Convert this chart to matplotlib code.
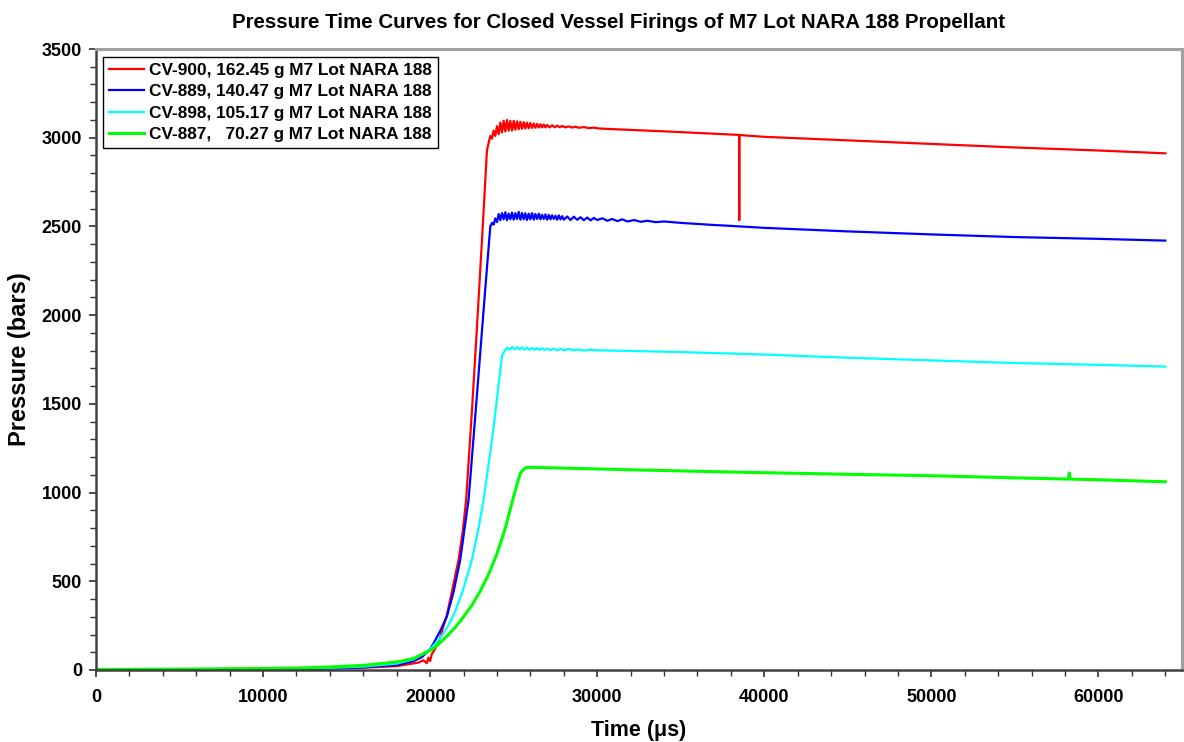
import matplotlib
matplotlib.use("Agg")
import matplotlib.pyplot as plt
from matplotlib.ticker import MultipleLocator

plt.rcParams['font.family'] = ['Liberation Sans', 'DejaVu Sans']
plt.rcParams['font.weight'] = 'bold'

# ---------------- data ----------------
labels = [
    "CV-900, 162.45 g M7 Lot NARA 188",
    "CV-889, 140.47 g M7 Lot NARA 188",
    "CV-898, 105.17 g M7 Lot NARA 188",
    "CV-887,   70.27 g M7 Lot NARA 188",
]
colors = ["#ff0000", "#0000ff", "#00ffff", "#00ff00"]

red_time = [0, 5000, 10000, 14000, 16000, 18000, 18800, 19300, 19600, 19800, 19900,
            20000, 20100, 20300, 20600, 21000, 21300, 21700, 21950, 22155, 22500,
            22800, 23100, 23400,
            23500, 23600, 23700, 23800, 23900, 24000, 24100, 24200, 24300, 24400,
            24500, 24600, 24700, 24800, 24900, 25000, 25100, 25200, 25300, 25400,
            25500, 25600, 25700, 25800, 25900, 26000, 26100, 26200, 26300, 26400,
            26500, 26600, 26700, 26800, 26900, 27000, 27150, 27300, 27450, 27600,
            27750, 27900, 28100, 28300, 28500, 28700, 28900, 29200, 29500, 29800,
            30100,
            31000, 32000, 34000, 36000, 38000, 38490, 38500, 38510,
            40000, 45000, 50000, 55000, 60000, 64000]
red_pressure = [0, 2, 4, 8, 13, 22, 34, 42, 55, 38, 70,
                50, 90, 120, 185, 310, 440, 621, 780, 960, 1460,
                1930, 2420, 2930,
                2970, 3010, 2995, 3040, 3010, 3065, 3020, 3085, 3030, 3095,
                3035, 3100, 3040, 3095, 3040, 3095, 3045, 3092, 3048, 3090,
                3050, 3088, 3052, 3085, 3053, 3083, 3055, 3080, 3056, 3078,
                3057, 3076, 3058, 3074, 3058, 3072, 3058, 3070, 3059, 3068,
                3059, 3066, 3058, 3064, 3057, 3062, 3056, 3060, 3054, 3057,
                3052,
                3048, 3044, 3036, 3027, 3018, 3016, 2535, 3015,
                3005, 2985, 2965, 2945, 2928, 2912]

blue_time = [0, 5000, 10000, 14000, 16000, 18000, 19000, 19500, 20000, 20200,
             20600, 21000, 21400, 21800, 22300, 22800, 23250, 23600,
             23700, 23800, 23900, 24000, 24100, 24200, 24300, 24400, 24500,
             24600, 24700, 24800, 24900, 25000, 25100, 25200, 25300, 25400,
             25500, 25600, 25700, 25800, 25900, 26000, 26100, 26200, 26300,
             26400, 26500, 26600, 26700, 26800, 26900, 27000, 27100, 27200,
             27300, 27400, 27500, 27600, 27700, 27800, 27900, 28000,
             28200, 28400, 28600, 28800, 29000, 29200, 29400, 29600, 29800,
             30000, 30300, 30600, 30900, 31200, 31500, 31800, 32200, 32600,
             33000, 33500, 34000, 35000, 36000, 37000, 38000,
             40000, 45000, 50000, 55000, 60000, 64000]
blue_pressure = [0, 1, 4, 9, 15, 28, 50, 72, 118, 150,
                 220, 301, 440, 621, 960, 1550, 2090, 2500,
                 2520, 2510, 2545, 2525, 2570, 2535, 2575, 2540, 2580,
                 2535, 2572, 2540, 2578, 2538, 2575, 2542, 2582, 2538,
                 2576, 2540, 2574, 2536, 2572, 2540, 2575, 2538, 2570,
                 2542, 2572, 2540, 2566, 2542, 2568, 2538, 2565, 2540,
                 2563, 2542, 2560, 2538, 2562, 2540, 2558, 2538,
                 2556, 2536, 2555, 2537, 2552, 2535, 2550, 2534, 2548,
                 2536, 2546, 2532, 2542, 2530, 2540, 2528, 2536, 2526,
                 2532, 2524, 2528, 2520, 2514, 2508, 2503,
                 2492, 2472, 2455, 2440, 2430, 2420]

cyan_time = [0, 5000, 10000, 14000, 16000, 18000, 19000, 20000, 20500, 21000,
             21500, 22000, 22500, 22900, 23200, 23600, 23800, 24000, 24300, 24500, 24600,
             24750, 24900, 25050, 25200, 25350, 25500, 25650, 25800, 25950, 26100,
             26250, 26400, 26550, 26700, 26850, 27000, 27200, 27400, 27600, 27800,
             28000, 28300, 28600, 28900, 29200, 29600, 30000,
             35000, 40000, 45000, 50000, 55000, 60000, 64000]
cyan_pressure = [0, 2, 6, 12, 19, 36, 60, 117, 170, 235,
                 330, 460, 621, 800, 960, 1230, 1370, 1530, 1769, 1805, 1816,
                 1806, 1820, 1808, 1819, 1807, 1818, 1806, 1816, 1805, 1815,
                 1805, 1814, 1804, 1813, 1804, 1812, 1803, 1811, 1802, 1810,
                 1802, 1809, 1801, 1807, 1800, 1805, 1802,
                 1792, 1778, 1760, 1745, 1730, 1720, 1710]

green_time = [0, 5000, 10000, 12000, 14000, 16000, 18000, 19000, 20000, 20500,
              21000, 21500, 22000, 22500, 23000, 23500, 24000, 24500, 25000,
              25400, 25700, 26000, 27000, 30000, 35000, 40000, 45000, 50000,
              55000, 58200, 58250, 58300, 60000, 64000]
green_pressure = [3, 5, 9, 11, 17, 26, 45, 65, 110, 145,
                  190, 240, 300, 365, 445, 540, 655, 800, 980,
                  1110, 1140, 1142, 1140, 1133, 1122, 1112, 1103, 1095,
                  1083, 1076, 1110, 1076, 1072, 1061]

series = [
    (red_time, red_pressure),
    (blue_time, blue_pressure),
    (cyan_time, cyan_pressure),
    (green_time, green_pressure),
]
linewidths = [1.6, 1.6, 1.6, 2.2]

x_ticks = [0, 10000, 20000, 30000, 40000, 50000, 60000]
y_ticks = [0, 500, 1000, 1500, 2000, 2500, 3000, 3500]

# ---------------- figure ----------------
fig = plt.figure(figsize=(11.84, 7.42), dpi=100)
ax = fig.add_axes([96 / 1184, 1 - 670 / 742, (1182 - 96) / 1184, (670 - 49) / 742])

for (t, p), c, lab, lw in zip(series, colors, labels, linewidths):
    ax.plot(t, p, color=c, lw=lw, label=lab)

ax.set_xlim(0, 65000)
ax.set_ylim(0, 3500)
ax.set_xticks(x_ticks)
ax.set_yticks(y_ticks)
ax.xaxis.set_minor_locator(MultipleLocator(2000))
ax.yaxis.set_minor_locator(MultipleLocator(100))

ax.tick_params(axis='both', which='major', direction='out', length=5, width=1.2,
               colors='#303030', labelcolor='black', labelsize=13)
ax.tick_params(axis='both', which='minor', direction='out', length=4, width=1.0,
               colors='#303030')
ax.tick_params(axis='x', which='major', pad=9)
ax.tick_params(axis='y', which='major', pad=5)
for lab in ax.get_xticklabels() + ax.get_yticklabels():
    lab.set_fontweight('bold')

for side in ['left', 'bottom']:
    ax.spines[side].set_color('#404040')
    ax.spines[side].set_linewidth(1.8)
for side in ['top', 'right']:
    ax.spines[side].set_color('#a0a0a0')
    ax.spines[side].set_linewidth(2.2)

ax.set_xlabel("Time (μs)", fontsize=15.5, fontweight='bold', labelpad=10)
ax.set_ylabel("Pressure (bars)", fontsize=17, fontweight='bold', labelpad=8)
fig.text(619 / 1184, 1 - 22 / 742,
         "Pressure Time Curves for Closed Vessel Firings of M7 Lot NARA 188 Propellant",
         ha='center', va='center', fontsize=14.8, fontweight='bold')

leg = ax.legend(loc='upper left', bbox_to_anchor=(0.0065, 0.987), borderaxespad=0,
                fontsize=12.4, handlelength=2.0, handletextpad=0.3,
                labelspacing=0.36, borderpad=0.35, fancybox=False, framealpha=1,
                edgecolor='black')
leg.get_frame().set_linewidth(1.0)
for txt in leg.get_texts():
    txt.set_fontweight('bold')

fig.savefig("out.png", dpi=100)
